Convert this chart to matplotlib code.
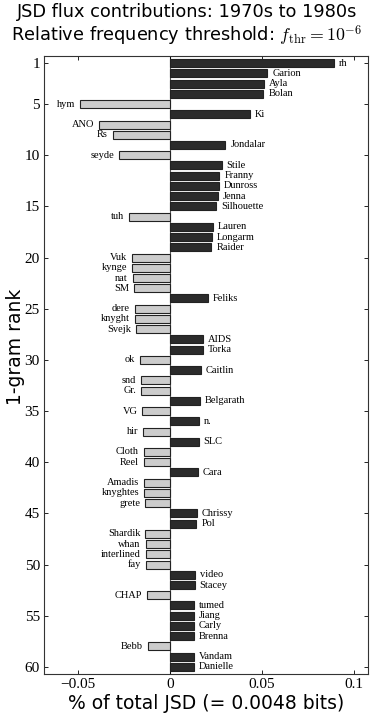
import numpy as np
import matplotlib
matplotlib.use('Agg')
import matplotlib.pyplot as plt

plt.rcParams['mathtext.fontset'] = 'cm'

# 1-grams in rank order and their signed contribution (% of total JSD)
words = ['rh', 'Garion', 'Ayla', 'Bolan', 'hym', 'Ki', 'ANO', 'Rs', 'Jondalar', 'seyde',
         'Stile', 'Franny', 'Dunross', 'Jenna', 'Silhouette', 'tuh', 'Lauren', 'Longarm', 'Raider', 'Vuk',
         'kynge', 'nat', 'SM', 'Feliks', 'dere', 'knyght', 'Svejk', 'AIDS', 'Torka', 'ok',
         'Caitlin', 'snd', 'Gr.', 'Belgarath', 'VG', 'n.', 'hir', 'SLC', 'Cloth', 'Reel',
         'Cara', 'Amadis', 'knyghtes', 'grete', 'Chrissy', 'Pol', 'Shardik', 'whan', 'interlined', 'fay',
         'video', 'Stacey', 'CHAP', 'tumed', 'Jiang', 'Carly', 'Brenna', 'Bebb', 'Vandam', 'Danielle']
contrib = [0.0891, 0.0529, 0.0511, 0.0507, -0.0489, 0.0435, -0.0386, -0.0312, 0.0301, -0.0277,
           0.0281, 0.0268, 0.0266, 0.0261, 0.0250, -0.0225, 0.0232, 0.0228, 0.0225, -0.0208,
           -0.0205, -0.0201, -0.0197, 0.0205, -0.0192, -0.0190, -0.0183, 0.0181, 0.0179, -0.0161,
           0.0167, -0.0156, -0.0156, 0.0161, -0.0150, 0.0156, -0.0147, 0.0156, -0.0143, -0.0143,
           0.0150, -0.0139, -0.0139, -0.0136, 0.0145, 0.0143, -0.0134, -0.0132, -0.0132, -0.0130,
           0.0134, 0.0134, -0.0125, 0.0132, 0.0130, 0.0130, 0.0130, -0.0121, 0.0129, 0.0129]
xticks = [-0.05, 0, 0.05, 0.1]
xticklabels = ['\u22120.05', '0', '0.05', '0.1']
yticks = [1, 5, 10, 15, 20, 25, 30, 35, 40, 45, 50, 55, 60]

rank = np.arange(1, len(words) + 1)
contrib = np.array(contrib)

fig = plt.figure(figsize=(3.74, 7.24), dpi=100)
ax = fig.add_axes([0.1176, 0.069, 0.8664, 0.8537])

cols = ['#2b2b2b' if v > 0 else '#cccccc' for v in contrib]
ax.axvline(0, color='#555555', lw=0.8, zorder=1)
ax.barh(rank, contrib, height=0.78, color=cols, edgecolor='#222222', linewidth=0.8, zorder=2)

for r, v, w in zip(rank, contrib, words):
    if v > 0:
        ax.text(v + 0.0027, r, w, ha='left', va='center', family='Liberation Serif', fontsize=7.5)
    else:
        ax.text(v - 0.0027, r, w, ha='right', va='center', family='Liberation Serif', fontsize=7.5)

ax.set_xlim(-0.0685, 0.1076)
ax.set_ylim(60.7, 0.3)
ax.set_xticks(xticks)
ax.set_xticklabels(xticklabels, family='Liberation Serif', fontsize=11)
ax.set_yticks(yticks)
ax.set_yticklabels([str(t) for t in yticks], family='Liberation Serif', fontsize=11)
ax.tick_params(direction='in', top=True, right=True, length=3, width=0.6, pad=3)
for s in ax.spines.values():
    s.set_linewidth(0.8)
    s.set_color('#333333')

ax.set_xlabel('% of total JSD (= 0.0048 bits)', fontsize=13.5, labelpad=2)
ax.set_ylabel('1-gram rank', fontsize=13.5)
ax.yaxis.set_label_coords(-0.058, 0.53)

fig.text(0.5, 0.983, 'JSD flux contributions: 1970s to 1980s', ha='center', va='center', fontsize=12.8)
fig.text(0.5, 0.95, r'Relative frequency threshold: $f_{\rm thr} = 10^{-6}$', ha='center', va='center', fontsize=12.8)

fig.savefig('out.png', dpi=100)
